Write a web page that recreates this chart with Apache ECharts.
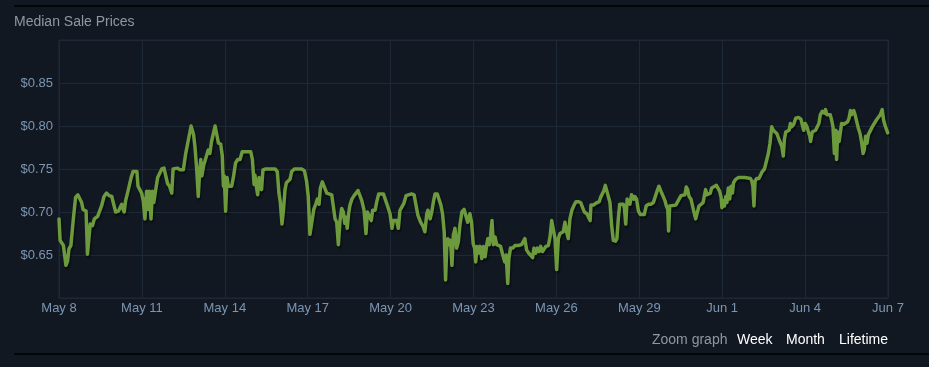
<!DOCTYPE html>
<html>
<head>
<meta charset="utf-8">
<script src="https://cdn.jsdelivr.net/npm/echarts@6/dist/echarts.min.js"></script>
<style>
  html, body { margin: 0; padding: 0; background: #111822; }
  #chart { width: 929px; height: 367px; }
</style>
</head>
<body>
<div id="chart"></div>
<script>
// Tick labels for x axis (every 3 days from May 8)
const xTickLabels = ['May 8', 'May 11', 'May 14', 'May 17', 'May 20', 'May 23', 'May 26', 'May 29', 'Jun 1', 'Jun 4', 'Jun 7'];
// Days since May 8 00:00
const days = [
  0.00,0.04,0.16,0.25,0.31,0.36,0.43,0.52,0.60,0.68,0.75,0.82,0.87,0.92,0.98,1.03,1.10,1.13,1.21,1.28,1.35,1.40,1.47,1.54,1.63,1.72,1.81,1.91,1.98,
  2.05,2.15,2.22,2.27,2.32,2.36,2.41,2.51,2.61,2.68,2.75,2.82,2.86,2.92,2.99,3.05,3.11,3.17,3.23,3.27,3.33,3.38,3.43,3.50,3.57,3.64,3.72,3.80,3.87,3.93,
  4.00,4.08,4.13,4.20,4.29,4.38,4.50,4.58,4.66,4.73,4.78,4.83,4.87,4.92,4.98,5.04,5.09,5.13,5.17,5.24,5.28,5.34,5.40,5.46,5.52,5.60,5.65,5.71,5.77,5.85,5.91,5.95,5.98,
  6.03,6.08,6.13,6.19,6.25,6.32,6.39,6.47,6.55,6.63,6.73,6.85,6.94,7.00,7.06,7.09,7.14,7.19,7.24,7.30,7.33,7.38,7.48,7.64,7.82,7.90,7.96,
  8.01,8.07,8.13,8.18,8.23,8.30,8.36,8.42,8.52,8.64,8.78,8.88,8.96,9.02,9.08,9.14,9.22,9.29,9.35,9.41,9.46,9.53,9.60,9.69,9.75,9.87,
  9.99,10.05,10.11,10.17,10.23,10.29,10.34,10.39,10.43,10.48,10.53,10.60,10.68,10.75,10.82,10.89,10.96,11.04,11.11,11.16,11.23,11.30,11.35,11.44,11.50,11.57,11.64,11.74,11.81,11.88,11.98,
  12.05,12.10,12.17,12.22,12.28,12.34,12.41,12.48,12.56,12.63,12.76,12.85,12.92,12.99,13.09,13.18,13.24,13.31,13.35,13.43,13.49,13.55,13.61,13.69,13.76,13.82,13.88,13.94,13.99,
  14.03,14.07,14.11,14.17,14.22,14.27,14.33,14.39,14.45,14.51,14.58,14.66,14.73,14.79,14.87,14.93,14.99,15.04,15.08,15.13,15.17,15.24,15.30,15.36,15.42,15.48,15.52,15.57,15.62,15.67,15.72,15.78,15.84,15.91,15.98,
  16.06,16.13,16.18,16.24,16.28,16.34,16.42,16.50,16.62,16.74,16.80,16.86,16.92,17.00,17.07,17.14,17.19,17.25,17.31,17.38,17.43,17.50,17.55,17.62,17.71,17.77,17.83,17.89,17.95,
  18.01,18.07,18.13,18.20,18.25,18.31,18.37,18.43,18.49,18.56,18.64,18.71,18.79,18.88,18.95,19.01,19.10,19.17,19.22,19.25,19.34,19.42,19.49,19.55,19.60,19.67,19.72,19.77,
  19.88,19.94,20.00,20.06,20.14,20.19,20.24,20.29,20.36,20.42,20.46,20.51,20.56,20.60,20.66,20.72,20.80,20.84,20.90,20.97,21.04,21.11,21.18,21.25,21.33,21.42,21.51,21.57,21.64,21.71,21.76,21.81,21.88,21.93,21.98,
  22.03,22.06,22.10,22.15,22.32,22.39,22.44,22.51,22.58,22.65,22.70,22.75,22.80,22.87,22.92,22.97,23.04,23.11,23.16,23.23,23.31,23.35,23.40,23.45,23.50,23.57,23.62,23.69,23.79,23.86,23.91,23.96,23.99,
  24.03,24.08,24.13,24.17,24.22,24.27,24.32,24.37,24.41,24.49,24.58,24.82,25.02,25.07,25.11,25.15,25.19,25.25,25.33,25.40,25.45,25.53,25.60,25.67,25.73,25.79,25.85,25.91,25.98,
  26.06,26.13,26.16,26.21,26.25,26.30,26.37,26.42,26.47,26.51,26.59,26.66,26.76,26.85,26.90,26.95,27.00,27.07,27.12,27.17,27.20,27.26,27.33,27.38,27.45,27.50,27.55,27.62,27.70,27.74,27.79,27.84,27.91,27.96,
  28.01,28.06,28.11,28.14,28.18,28.23,28.28,28.32,28.40,28.47,28.54,28.59,28.64,28.68,28.76,28.81,28.87,28.93,28.99,29.05,29.10,29.14,29.19,29.24,29.29,29.36,29.43,29.50,29.58,29.65,29.72,29.79,29.84,29.89,29.96,29.99
];
// Median sale price (USD)
const prices = [
  0.692,0.667,0.661,0.638,0.643,0.657,0.661,0.692,0.717,0.720,0.719,0.711,0.703,0.705,0.701,0.651,0.651,0.686,0.684,0.692,0.690,0.695,0.695,0.707,0.718,0.722,0.719,0.718,0.709,
  0.700,0.701,0.701,0.709,0.703,0.700,0.713,0.726,0.740,0.747,0.748,0.747,0.730,0.728,0.722,0.713,0.692,0.724,0.703,0.724,0.692,0.724,0.711,0.726,0.740,0.741,0.750,0.751,0.750,0.733,
  0.730,0.722,0.750,0.748,0.751,0.749,0.749,0.767,0.780,0.782,0.800,0.800,0.790,0.776,0.751,0.718,0.747,0.761,0.742,0.755,0.759,0.761,0.772,0.768,0.782,0.793,0.800,0.800,0.780,0.779,0.765,0.730,0.742,
  0.701,0.740,0.730,0.732,0.730,0.742,0.757,0.761,0.761,0.770,0.770,0.770,0.770,0.761,0.732,0.743,0.730,0.720,0.740,0.732,0.726,0.749,0.750,0.750,0.750,0.747,0.722,
  0.711,0.686,0.705,0.726,0.734,0.734,0.738,0.747,0.750,0.750,0.750,0.748,0.736,0.718,0.674,0.686,0.703,0.709,0.715,0.709,0.728,0.735,0.733,0.722,0.720,0.720,
  0.692,0.688,0.662,0.690,0.704,0.700,0.687,0.694,0.681,0.698,0.708,0.715,0.719,0.721,0.725,0.719,0.713,0.702,0.675,0.700,0.702,0.690,0.702,0.702,0.712,0.721,0.721,0.721,0.719,0.708,0.698,
  0.681,0.690,0.690,0.690,0.681,0.702,0.704,0.710,0.719,0.721,0.721,0.720,0.708,0.696,0.688,0.683,0.677,0.698,0.702,0.692,0.700,0.712,0.721,0.721,0.719,0.708,0.698,0.677,0.621,
  0.658,0.669,0.662,0.667,0.638,0.673,0.681,0.658,0.665,0.685,0.700,0.703,0.702,0.688,0.698,0.688,0.663,0.658,0.642,0.660,0.652,0.660,0.646,0.660,0.648,0.662,0.669,0.662,0.673,0.690,0.662,0.671,0.662,0.660,0.660,
  0.650,0.642,0.650,0.617,0.646,0.658,0.658,0.661,0.661,0.662,0.660,0.669,0.656,0.652,0.652,0.647,0.658,0.652,0.658,0.654,0.660,0.654,0.652,0.660,0.661,0.671,0.690,0.688,0.669,
  0.633,0.669,0.675,0.675,0.677,0.688,0.677,0.669,0.692,0.702,0.708,0.712,0.712,0.711,0.710,0.700,0.698,0.696,0.690,0.708,0.708,0.710,0.712,0.712,0.717,0.719,0.725,0.731,
  0.718,0.711,0.684,0.667,0.666,0.669,0.692,0.709,0.708,0.709,0.705,0.686,0.715,0.717,0.709,0.720,0.715,0.718,0.715,0.701,0.697,0.695,0.697,0.707,0.709,0.709,0.711,0.717,0.724,0.730,0.728,0.722,0.717,0.713,0.707,
  0.703,0.678,0.707,0.708,0.708,0.708,0.715,0.719,0.720,0.720,0.729,0.726,0.718,0.715,0.713,0.701,0.692,0.690,0.707,0.709,0.711,0.718,0.726,0.720,0.721,0.722,0.728,0.730,0.731,0.729,0.724,0.717,0.705,
  0.713,0.707,0.718,0.711,0.728,0.715,0.730,0.722,0.734,0.738,0.740,0.740,0.739,0.736,0.730,0.707,0.736,0.739,0.739,0.741,0.747,0.750,0.759,0.768,0.780,0.799,0.795,0.793,0.791,
  0.784,0.782,0.776,0.765,0.784,0.793,0.795,0.795,0.803,0.799,0.802,0.809,0.810,0.808,0.801,0.795,0.803,0.799,0.793,0.788,0.782,0.793,0.791,0.795,0.797,0.803,0.813,0.817,0.815,0.819,0.813,0.815,0.813,0.807,
  0.799,0.768,0.795,0.761,0.793,0.782,0.793,0.803,0.802,0.802,0.805,0.809,0.818,0.813,0.818,0.813,0.811,0.797,0.791,0.780,0.768,0.772,0.788,0.780,0.790,0.791,0.799,0.801,0.807,0.807,0.813,0.819,0.807,0.801,0.799,0.792
];
const yMin = 0.60, yMax = 0.90, yStep = 0.05;
const titleText = 'Median Sale Prices';
const zoomLabel = 'Zoom graph';
const zoomLinks = ['Week', 'Month', 'Lifetime'];

const seriesData = days.map((d, i) => [d, prices[i]]);
const chart = echarts.init(document.getElementById('chart'), null, { renderer: 'canvas' });
const font = 'Arial, "Liberation Sans", sans-serif';
const gridColor = '#1e2937';
const labelColor = '#7c95b2';

chart.setOption({
  backgroundColor: '#111822',
  animation: false,
  title: {
    text: titleText, left: 14, top: 15, padding: 0,
    textStyle: { color: '#8f98a0', fontSize: 14, fontWeight: 'normal', fontFamily: font }
  },
  grid: { left: 59, right: 41, top: 40, bottom: 69, show: true, borderColor: gridColor, borderWidth: 1, backgroundColor: 'transparent' },
  xAxis: {
    type: 'value', min: 0, max: 30, interval: 3,
    axisLine: { show: false }, axisTick: { show: false },
    splitLine: { show: true, lineStyle: { color: gridColor, width: 1 } },
    axisLabel: { color: labelColor, fontSize: 13, fontFamily: font, margin: 4,
      formatter: v => xTickLabels[Math.round(v / 3)] || '' }
  },
  yAxis: {
    type: 'value', min: yMin, max: yMax, interval: yStep,
    axisLine: { show: false }, axisTick: { show: false },
    splitLine: { show: true, lineStyle: { color: gridColor, width: 1 } },
    axisLabel: { color: labelColor, fontSize: 13, fontFamily: font, margin: 6,
      showMinLabel: false, showMaxLabel: false,
      formatter: v => '$' + v.toFixed(2) }
  },
  series: [{
    type: 'line', data: seriesData, showSymbol: false, smooth: false,
    lineStyle: { color: '#6c9a3d', width: 3.5, join: 'round', cap: 'round', shadowColor: 'rgba(0,0,0,0.55)', shadowBlur: 2, shadowOffsetY: 2, shadowOffsetX: 1 },
    clip: true
  }],
  graphic: [
    { type: 'rect', left: 14, top: 5, shape: { width: 915, height: 2 }, style: { fill: '#04070a' } },
    { type: 'rect', left: 14, top: 353, shape: { width: 915, height: 2 }, style: { fill: '#04070a' } },
    { type: 'text', left: 652, top: 333, style: { text: zoomLabel, fill: '#8f98a0', font: '14px ' + font } },
    { type: 'text', left: 737, top: 333, style: { text: zoomLinks[0], fill: '#ffffff', font: '14px ' + font } },
    { type: 'text', left: 786, top: 333, style: { text: zoomLinks[1], fill: '#ffffff', font: '14px ' + font } },
    { type: 'text', left: 839, top: 333, style: { text: zoomLinks[2], fill: '#ffffff', font: '14px ' + font } }
  ]
});
</script>
</body>
</html>
